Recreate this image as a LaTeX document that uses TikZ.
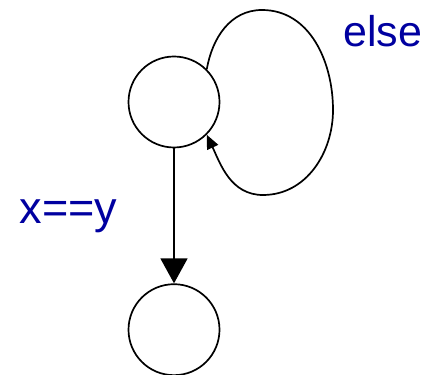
\documentclass[tikz,border=0pt]{standalone}
\usepackage{fontspec}
\setmainfont{Liberation Sans}
\definecolor{lblblue}{RGB}{0, 0, 160}
\usetikzlibrary{arrows.meta, positioning}

\begin{document}
\begin{tikzpicture}[
      x=1pt, y=1pt,
      node distance=135pt,
      state/.style={draw, circle, line width=1.7pt, minimum size=91pt, inner sep=0pt},
      arr/.style={-{Triangle[length=25pt, width=27pt]}, line width=1.7pt},
      selfarr/.style={-{Triangle[length=14pt, width=12pt]}, line width=1.7pt},
      lbl/.style={font=\fontsize{42}{48}\selectfont, text=lblblue, inner sep=0pt},
    ]
      \useasboundingbox (0,0) rectangle (435,374);

      \node[state] (s0) at (174,272) {};
      \node[state, below=of s0] (s1) {};

      \draw[arr] (s0) -- node[lbl, font=\fontsize{45}{50}\selectfont, left=56pt] {x==y} (s1);

      % self loop
      \coordinate (lptop) at (262,364);
      \coordinate (lpright) at (333,264);
      \coordinate (lpbot) at (263,179);
      \draw[selfarr] (s0.45) to[out=80, in=180] (lptop)
        to[out=0, in=90] (lpright)
        to[out=-90, in=0] (lpbot)
        to[out=180, in=-65] (s0.-45);

      \node[lbl, font=\fontsize{43}{48}\selectfont, anchor=base west] at (343,327) {else};
    \end{tikzpicture}
\end{document}
